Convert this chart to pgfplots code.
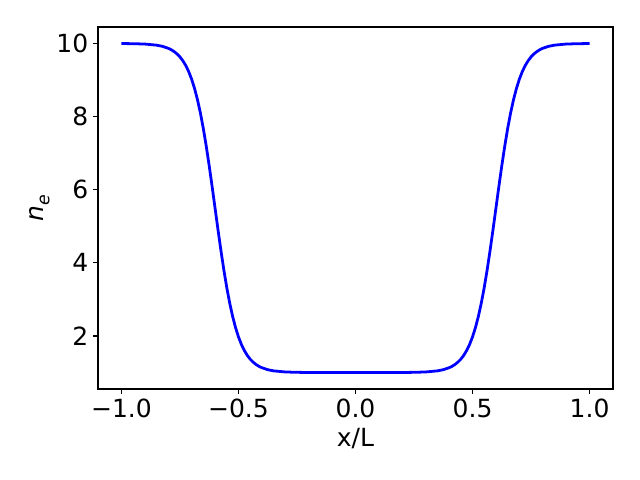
\documentclass[border=0pt]{standalone}
\usepackage{fontspec}
\setmainfont{DejaVu Sans}
\usepackage{pgfplots}
\pgfplotsset{compat=1.18}

\begin{document}
\begin{tikzpicture}
\useasboundingbox (-70.56pt,-65.52pt) rectangle (390.24pt,280.08pt);
\begin{axis}[
    scale only axis,
    width=370.8pt, height=260.64pt,
    xmin=-1.1, xmax=1.1,
    ymin=0.55, ymax=10.45,
    xtick={-1,-0.5,0,0.5,1},
    xticklabels={−1.0,−0.5,0.0,0.5,1.0},
    ytick={2,4,6,8,10},
    /pgf/number format/assume math mode=true,
    tick label style={font=\fontsize{18}{21}\selectfont},
    label style={font=\fontsize{18}{21}\selectfont},
    tick align=outside,
    tick pos=left,
    major tick length=3.5pt,
    axis line style={line width=0.8pt},
    every tick/.style={black, line width=0.8pt},
    xlabel={x/L},
    ylabel={\textit{n}\raisebox{-0.25em}{\fontsize{12.5}{14}\selectfont\textit{e}}},
    xlabel style={yshift=-1pt},
    ylabel style={yshift=-2pt},
    clip=false,
]
\addplot[blue, line width=2pt, line join=round] coordinates {
(-1.0,9.998) (-0.95,9.994) (-0.9,9.984) (-0.85,9.954) (-0.825,9.922) (-0.8,9.868)
(-0.7875,9.830) (-0.775,9.779) (-0.7625,9.715) (-0.75,9.633) (-0.7375,9.528)
(-0.725,9.396) (-0.7125,9.230) (-0.7,9.023) (-0.6875,8.769) (-0.675,8.461)
(-0.6625,8.096) (-0.65,7.672) (-0.6375,7.189) (-0.625,6.657) (-0.6125,6.089)
(-0.6,5.5) (-0.5875,4.911) (-0.575,4.343) (-0.5625,3.811) (-0.55,3.328)
(-0.5375,2.904) (-0.525,2.539) (-0.5125,2.231) (-0.5,1.977) (-0.4875,1.770)
(-0.475,1.604) (-0.4625,1.472) (-0.45,1.367) (-0.4375,1.285) (-0.425,1.221)
(-0.4125,1.170) (-0.4,1.132) (-0.375,1.078) (-0.35,1.046) (-0.3,1.016)
(-0.25,1.006) (-0.2,1.002) (-0.1,1.000) (0.0,1.000) (0.1,1.000)
(0.2,1.002) (0.25,1.006) (0.3,1.016) (0.35,1.046) (0.375,1.078)
(0.4,1.132) (0.4125,1.170) (0.425,1.221) (0.4375,1.285) (0.45,1.367)
(0.4625,1.472) (0.475,1.604) (0.4875,1.770) (0.5,1.977) (0.5125,2.231)
(0.525,2.539) (0.5375,2.904) (0.55,3.328) (0.5625,3.811) (0.575,4.343)
(0.5875,4.911) (0.6,5.5) (0.6125,6.089) (0.625,6.657) (0.6375,7.189)
(0.65,7.672) (0.6625,8.096) (0.675,8.461) (0.6875,8.769) (0.7,9.023)
(0.7125,9.230) (0.725,9.396) (0.7375,9.528) (0.75,9.633) (0.7625,9.715)
(0.775,9.779) (0.7875,9.830) (0.8,9.868) (0.825,9.922) (0.85,9.954)
(0.9,9.984) (0.95,9.994) (1.0,9.998)
};
\end{axis}
\end{tikzpicture}
\end{document}
